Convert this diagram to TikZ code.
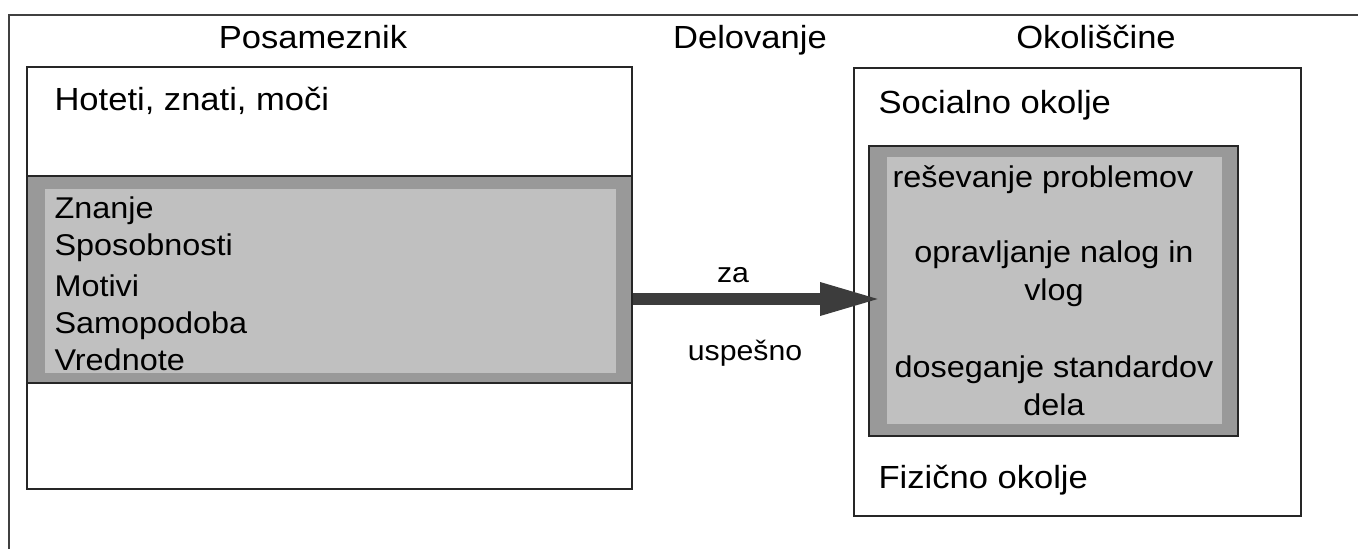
\documentclass[tikz,border=0pt]{standalone}
\usepackage{fontspec}
\setmainfont{Liberation Sans}[FakeStretch=1.08]
\usetikzlibrary{arrows.meta, positioning}

\definecolor{bandgray}{HTML}{999999}
\definecolor{lightgray}{HTML}{C0C0C0}
\definecolor{arrowgray}{HTML}{3C3C3C}

\begin{document}
\begin{tikzpicture}[x=1pt, y=-1pt,
    box/.style={draw=black!85, line width=1.8pt, fill=white, inner sep=0pt},
    band/.style={draw=black!85, line width=1.8pt, fill=bandgray, inner sep=0pt},
    light/.style={fill=lightgray, inner sep=0pt},
    title/.style={anchor=base, font=\fontsize{32}{37}\selectfont},
    label/.style={anchor=base west, font=\fontsize{32}{37}\selectfont},
    item/.style={anchor=base west, font=\fontsize{30}{37}\selectfont},
    task/.style={anchor=base, align=center, font=\fontsize{30}{37.5}\selectfont},
    arrowlab/.style={anchor=base, font=\fontsize{28}{34}\selectfont}]
\useasboundingbox (0,0) rectangle (1358,549);

% outer frame
\draw[draw=black!75, line width=1.8pt] (1358,15) -- (9,15) -- (9,549);

% titles
\node[title] (tposam) at (313,48)  {Posameznik};
\node[title] (tdelov) at (750,48)  {Delovanje};
\node[title] (tokol)  at (1096,48) {Okoliščine};

% posameznik
\node[box, minimum width=605pt, minimum height=422pt] (lbox)   at (329.5,278) {};
\node[band, minimum width=605pt, minimum height=207pt] (lband) at (329.5,279.5) {};
\node[light, minimum width=571pt, minimum height=184pt] (linner) at (330.5,281) {};
\node[label] (hoteti) at (51,110) {Hoteti, znati, moči};
\node[item] (znanje)  at (51,218) {Znanje};
\node[item] (sposob)  at (51,255) {Sposobnosti};
\node[item] (motivi)  at (51,296) {Motivi};
\node[item] (samopod) at (51,333) {Samopodoba};
\node[item] (vredn)   at (51,370) {Vrednote};

% okoliscine (base of a two-line node is its last line)
\node[box, minimum width=447pt, minimum height=448pt] (rbox)    at (1077.5,292) {};
\node[band, minimum width=369pt, minimum height=290pt] (rgray)  at (1053.5,291) {};
\node[light, minimum width=335pt, minimum height=267pt] (rinner) at (1054.5,290.5) {};
\node[label] (social) at (875,113) {Socialno okolje};
\node[label] (fizic)  at (875,488) {Fizično okolje};
\node[task] (resev)  at (1043,187) {reševanje problemov};
\node[task] (oprav)  at (1054,300) {opravljanje nalog in\\vlog};
\node[task] (doseg)  at (1054,415) {doseganje standardov\\dela};

% delovanje
\coordinate (atip) at (882,299);
\draw[arrowgray, line width=12pt, -{Triangle[length=62pt, width=30pt]}]
    (lbox.east |- atip) -- (atip);
\node[arrowlab] (za)    at (733,282) {za};
\node[arrowlab] (uspes) at (745,360) {uspešno};
\end{tikzpicture}
\end{document}
